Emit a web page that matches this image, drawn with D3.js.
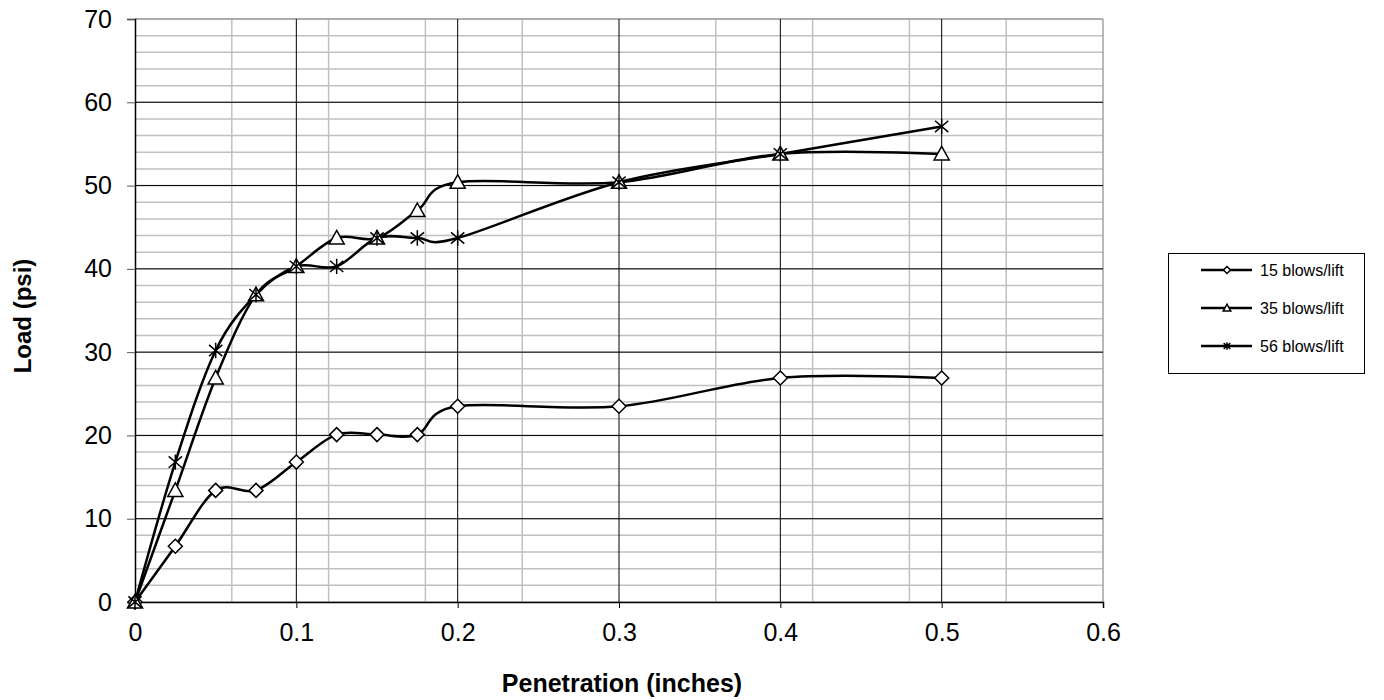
<!DOCTYPE html>
<html>
<head>
<meta charset="utf-8">
<script src="https://cdn.jsdelivr.net/npm/d3@7"></script>
<style>
    body { margin: 0; background: #fff; }
    svg text { font-family: "Liberation Sans", Arial, sans-serif; fill: #000; }
</style>
</head>
<body>
<div id="chart"></div>
<script>
// penetration depths (inches)
const penetration = [0, 0.025, 0.05, 0.075, 0.1, 0.125, 0.15, 0.175, 0.2, 0.3, 0.4, 0.5];
// loads (psi) per compaction effort
const blows15 = [0, 6.7, 13.4, 13.4, 16.8, 20.1, 20.1, 20.1, 23.5, 23.5, 26.9, 26.9];
const blows35 = [0, 13.4, 26.9, 36.9, 40.3, 43.7, 43.7, 47.0, 50.4, 50.4, 53.8, 53.8];
const blows56 = [0, 16.8, 30.2, 36.9, 40.3, 40.3, 43.7, 43.7, 43.7, 50.4, 53.8, 57.1];
const seriesNames = ["15 blows/lift", "35 blows/lift", "56 blows/lift"];
const seriesMarkers = ["diamond", "triangle", "star"];
const xTicks = [0, 0.1, 0.2, 0.3, 0.4, 0.5, 0.6];
const xMinor = [0.06, 0.12, 0.18, 0.24, 0.36, 0.42, 0.48, 0.54];
const yTicks = [0, 10, 20, 30, 40, 50, 60, 70];
const yMinor = d3.range(0, 71, 2);

const width = 1384;
const height = 700;
const margin = {top: 19, right: 281, bottom: 98, left: 135};

const svg = d3.select("#chart")
    .append("svg")
    .attr("width", width)
    .attr("height", height);

const x = d3.scaleLinear().domain([0, 0.6]).range([margin.left, width - margin.right]);
const y = d3.scaleLinear().domain([0, 70]).range([height - margin.bottom, margin.top]);

const grid = svg.append("g");

// minor grid (gray)
grid.selectAll(".hminor")
    .data(yMinor)
    .enter().append("line")
    .attr("x1", x(0)).attr("x2", x(0.6))
    .attr("y1", d => y(d)).attr("y2", d => y(d))
    .attr("stroke", "#c0c0c0").attr("stroke-width", 1.5);

grid.selectAll(".vminor")
    .data(xMinor)
    .enter().append("line")
    .attr("x1", d => x(d)).attr("x2", d => x(d))
    .attr("y1", y(0)).attr("y2", y(70))
    .attr("stroke", "#c0c0c0").attr("stroke-width", 1.5);

// right & top border
grid.append("line")
    .attr("x1", x(0.6)).attr("x2", x(0.6)).attr("y1", y(0)).attr("y2", y(70))
    .attr("stroke", "#a0a0a0").attr("stroke-width", 1.5);
grid.append("line")
    .attr("x1", x(0)).attr("x2", x(0.6)).attr("y1", y(70)).attr("y2", y(70))
    .attr("stroke", "#a0a0a0").attr("stroke-width", 1.5);

// major grid (dark)
grid.selectAll(".hmajor")
    .data(yTicks.slice(1, -1))
    .enter().append("line")
    .attr("x1", x(0)).attr("x2", x(0.6))
    .attr("y1", d => y(d)).attr("y2", d => y(d))
    .attr("stroke", "#000").attr("stroke-width", 1);

grid.selectAll(".vmajor")
    .data(xTicks.slice(1, -1))
    .enter().append("line")
    .attr("x1", d => x(d)).attr("x2", d => x(d))
    .attr("y1", y(0)).attr("y2", y(70))
    .attr("stroke", "#000").attr("stroke-width", 1);

// axes
const xAxis = svg.append("g")
    .attr("transform", `translate(0,${y(0)})`)
    .call(d3.axisBottom(x).tickValues(xTicks).tickSize(6).tickPadding(15).tickFormat(d3.format("")));
const yAxis = svg.append("g")
    .attr("transform", `translate(${x(0)},0)`)
    .call(d3.axisLeft(y).tickValues(yTicks).tickSize(8).tickPadding(15).tickFormat(d3.format("")));

[xAxis, yAxis].forEach(a => {
    a.select(".domain").attr("stroke", "#000").attr("stroke-width", 1.5);
    a.selectAll(".tick line").attr("stroke", "#000").attr("stroke-width", 1);
    a.selectAll(".tick text").style("font-size", "25px").attr("fill", "#000");
});
yAxis.selectAll(".tick line").attr("stroke", "#555");

// axis titles
svg.append("text")
    .attr("x", 622).attr("y", 692)
    .attr("text-anchor", "middle")
    .style("font-size", "25px").style("font-weight", "bold")
    .text("Penetration (inches)");

svg.append("text")
    .attr("transform", "translate(31,316) rotate(-90)")
    .attr("text-anchor", "middle")
    .style("font-size", "24px").style("font-weight", "bold")
    .text("Load (psi)");

// series
const allSeries = [blows15, blows35, blows56].map((vals, i) => ({
    name: seriesNames[i],
    marker: seriesMarkers[i],
    points: penetration.map((p, j) => ({x: p, y: vals[j]}))
}));

const line = d3.line()
    .x(d => x(d.x))
    .y(d => y(d.y))
    .curve(d3.curveCardinal.tension(0));

function drawMarker(g, type, size) {
    const s = size;
    if (type === "diamond") {
        g.append("path")
            .attr("d", `M0,${-s}L${s},0L0,${s}L${-s},0Z`)
            .attr("fill", "#fff").attr("stroke", "#000").attr("stroke-width", 1.5);
    } else if (type === "triangle") {
        const t = s * 1.08;
        g.append("path")
            .attr("d", `M0,${-t}L${t},${t * 0.8}L${-t},${t * 0.8}Z`)
            .attr("fill", "#fff").attr("stroke", "#000").attr("stroke-width", 1.5);
    } else {
        const r = s * 0.95;
        const v = s * 1.1;
        g.append("path")
            .attr("d", `M${-r},${-r * 0.85}L${r},${r * 0.85}M${-r},${r * 0.85}L${r},${-r * 0.85}M0,${-v}L0,${v}`)
            .attr("fill", "none").attr("stroke", "#000").attr("stroke-width", 1.5);
    }
}

allSeries.forEach(s => {
    svg.append("path")
        .datum(s.points)
        .attr("d", line)
        .attr("fill", "none")
        .attr("stroke", "#000")
        .attr("stroke-width", 2.5);
});

allSeries.forEach(s => {
    s.points.forEach(p => {
        const g = svg.append("g").attr("transform", `translate(${x(p.x)},${y(p.y)})`);
        drawMarker(g, s.marker, 7);
    });
});

// legend
const legend = svg.append("g");
legend.append("rect")
    .attr("x", 1168.5).attr("y", 253.5)
    .attr("width", 196).attr("height", 120)
    .attr("fill", "#fff").attr("stroke", "#000").attr("stroke-width", 1);

seriesNames.forEach((name, i) => {
    const ly = 270 + i * 38;
    legend.append("line")
        .attr("x1", 1201).attr("x2", 1252)
        .attr("y1", ly).attr("y2", ly)
        .attr("stroke", "#000").attr("stroke-width", 2.5);
    const g = legend.append("g").attr("transform", `translate(1227,${ly})`);
    drawMarker(g, seriesMarkers[i], 3.5);
    legend.append("text")
        .attr("x", 1260).attr("y", ly + 6)
        .style("font-size", "16px")
        .text(name);
});
</script>
</body>
</html>
